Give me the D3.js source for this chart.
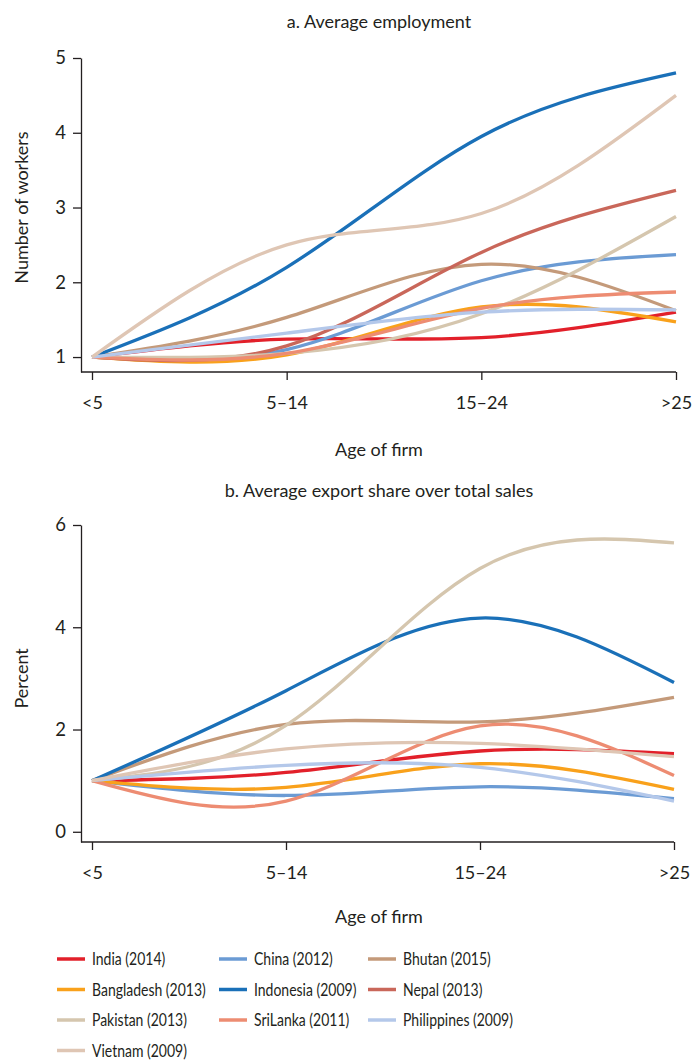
<!DOCTYPE html>
<html>
<head>
<meta charset="utf-8">
<script src="https://cdn.jsdelivr.net/npm/d3@7/dist/d3.min.js"></script>
<style>
  html, body { margin: 0; padding: 0; background: #fff; }
  svg { display: block; font-family: Lato, "Open Sans", sans-serif; }
  text { fill: #231f20; }
</style>
</head>
<body>
<svg id="chart" width="693" height="1061"></svg>
<script>
// ---------- DATA ----------
const ageGroups = ["<5", "5–14", "15–24", ">25"];

const countries = ["India (2014)", "China (2012)", "Bhutan (2015)",
                   "Bangladesh (2013)", "Indonesia (2009)", "Nepal (2013)",
                   "Pakistan (2013)", "SriLanka (2011)", "Philippines (2009)",
                   "Vietnam (2009)"];

const colors = ["#e2202a", "#6b9bd4", "#c49a7a",
                "#f9a11b", "#1a70b8", "#c9675a",
                "#d5c6ae", "#ed8c72", "#b4c8ea",
                "#dfc6b4"];

// Panel a: average employment (number of workers)
const empIndia       = [1, 1.24, 1.26, 1.60];
const empChina       = [1, 1.10, 2.02, 2.37];
const empBhutan      = [1, 1.53, 2.24, 1.62];
const empBangladesh  = [1, 1.03, 1.67, 1.47];
const empIndonesia   = [1, 2.20, 3.95, 4.80];
const empNepal       = [1, 1.15, 2.40, 3.23];
const empPakistan    = [1, 1.05, 1.58, 2.88];
const empSriLanka    = [1, 1.05, 1.65, 1.87];
const empPhilippines = [1, 1.32, 1.60, 1.63];
const empVietnam     = [1, 2.50, 2.92, 4.50];

// Panel b: average export share over total sales (percent)
const expIndia       = [1, 1.16, 1.58, 1.53];
const expChina       = [1, 0.71, 0.88, 0.65];
const expBhutan      = [1, 2.10, 2.15, 2.63];
const expBangladesh  = [1, 0.87, 1.33, 0.83];
const expIndonesia   = [1, 2.76, 4.18, 2.92];
const expNepal       = null; // not shown in panel b
const expPakistan    = [1, 2.08, 5.15, 5.65];
const expSriLanka    = [1, 0.60, 2.07, 1.10];
const expPhilippines = [1, 1.30, 1.26, 0.60];
const expVietnam     = [1, 1.62, 1.73, 1.47];

const yTicksA = [1, 2, 3, 4, 5];
const yTicksB = [0, 2, 4, 6];

const empSeries = [empIndia, empChina, empBhutan, empBangladesh, empIndonesia,
                   empNepal, empPakistan, empSriLanka, empPhilippines, empVietnam];
const expSeries = [expIndia, expChina, expBhutan, expBangladesh, expIndonesia,
                   expNepal, expPakistan, expSriLanka, expPhilippines, expVietnam];

// ---------- DRAW ----------
const svg = d3.select("#chart");
const axisX0 = 81;
const lineW = 3.3;
const FONT = 'Lato, "Open Sans", sans-serif';

function panel(cfg) {
  const g = svg.append("g");
  const x = d3.scalePoint().domain(ageGroups).range(cfg.xRange);
  const y = d3.scaleLinear().domain(cfg.yDomain).range(cfg.yRange);

  g.append("text").attr("x", 379).attr("y", cfg.titleY)
    .attr("text-anchor", "middle").attr("font-size", 18).text(cfg.title);

  const ya = g.append("g").attr("transform", `translate(${axisX0},0)`)
    .call(d3.axisLeft(y).tickValues(cfg.yTicks).tickFormat(d3.format("d"))
      .tickSize(8).tickSizeOuter(0).tickPadding(7));
  ya.selectAll("text").attr("font-size", 18.5).style("fill", "#231f20").attr("font-family", FONT);
  ya.selectAll("line, path").attr("stroke", "#231f20").attr("stroke-width", 1.3);

  const xa = g.append("g").attr("transform", `translate(0,${cfg.yRange[0]})`)
    .call(d3.axisBottom(x).tickSize(8).tickSizeOuter(0).tickPadding(16));
  xa.select(".domain").attr("d", `M${axisX0},0H${cfg.xRange[1]}`);
  xa.selectAll("text").attr("font-size", 18).style("fill", "#231f20").attr("font-family", FONT);
  xa.selectAll("line, path").attr("stroke", "#231f20").attr("stroke-width", 1.3);

  g.append("text").attr("x", 379).attr("y", cfg.xLabelY)
    .attr("text-anchor", "middle").attr("font-size", 18).text("Age of firm");
  const yMid = (y(cfg.yTicks[0]) + y(cfg.yTicks[cfg.yTicks.length - 1])) / 2;
  g.append("text").attr("transform", `translate(28,${yMid}) rotate(-90)`)
    .attr("text-anchor", "middle").attr("font-size", 18).text(cfg.yLabel);

  const line = d3.line().x((d, i) => x(ageGroups[i])).y(d => y(d)).curve(d3.curveNatural);
  cfg.series.forEach((s, i) => {
    if (!s) return;
    g.append("path").attr("d", line(s)).attr("fill", "none")
      .attr("stroke", colors[i]).attr("stroke-width", lineW);
  });
}

panel({
  title: "a. Average employment", titleY: 28,
  xRange: [92, 676], yDomain: [0.8, 5], yRange: [372, 58],
  yTicks: yTicksA, yLabel: "Number of workers", xLabelY: 456,
  series: empSeries
});

panel({
  title: "b. Average export share over total sales", titleY: 497,
  xRange: [92, 674], yDomain: [-0.2, 6], yRange: [842, 525],
  yTicks: yTicksB, yLabel: "Percent", xLabelY: 923,
  series: expSeries
});

const legend = svg.append("g");
const colX = [57, 219, 368];
countries.forEach((c, i) => {
  const col = i % 3, row = Math.floor(i / 3);
  const cy = 959 + row * 30.5;
  const lg = legend.append("g");
  lg.append("line").attr("x1", colX[col]).attr("x2", colX[col] + 28)
    .attr("y1", cy).attr("y2", cy).attr("stroke", colors[i]).attr("stroke-width", 3.5);
  lg.append("text").attr("transform", `translate(${colX[col] + 35},${cy}) scale(0.8,1)`)
    .attr("dy", "0.36em").attr("font-size", 17.5).text(c);
});
</script>
</body>
</html>
